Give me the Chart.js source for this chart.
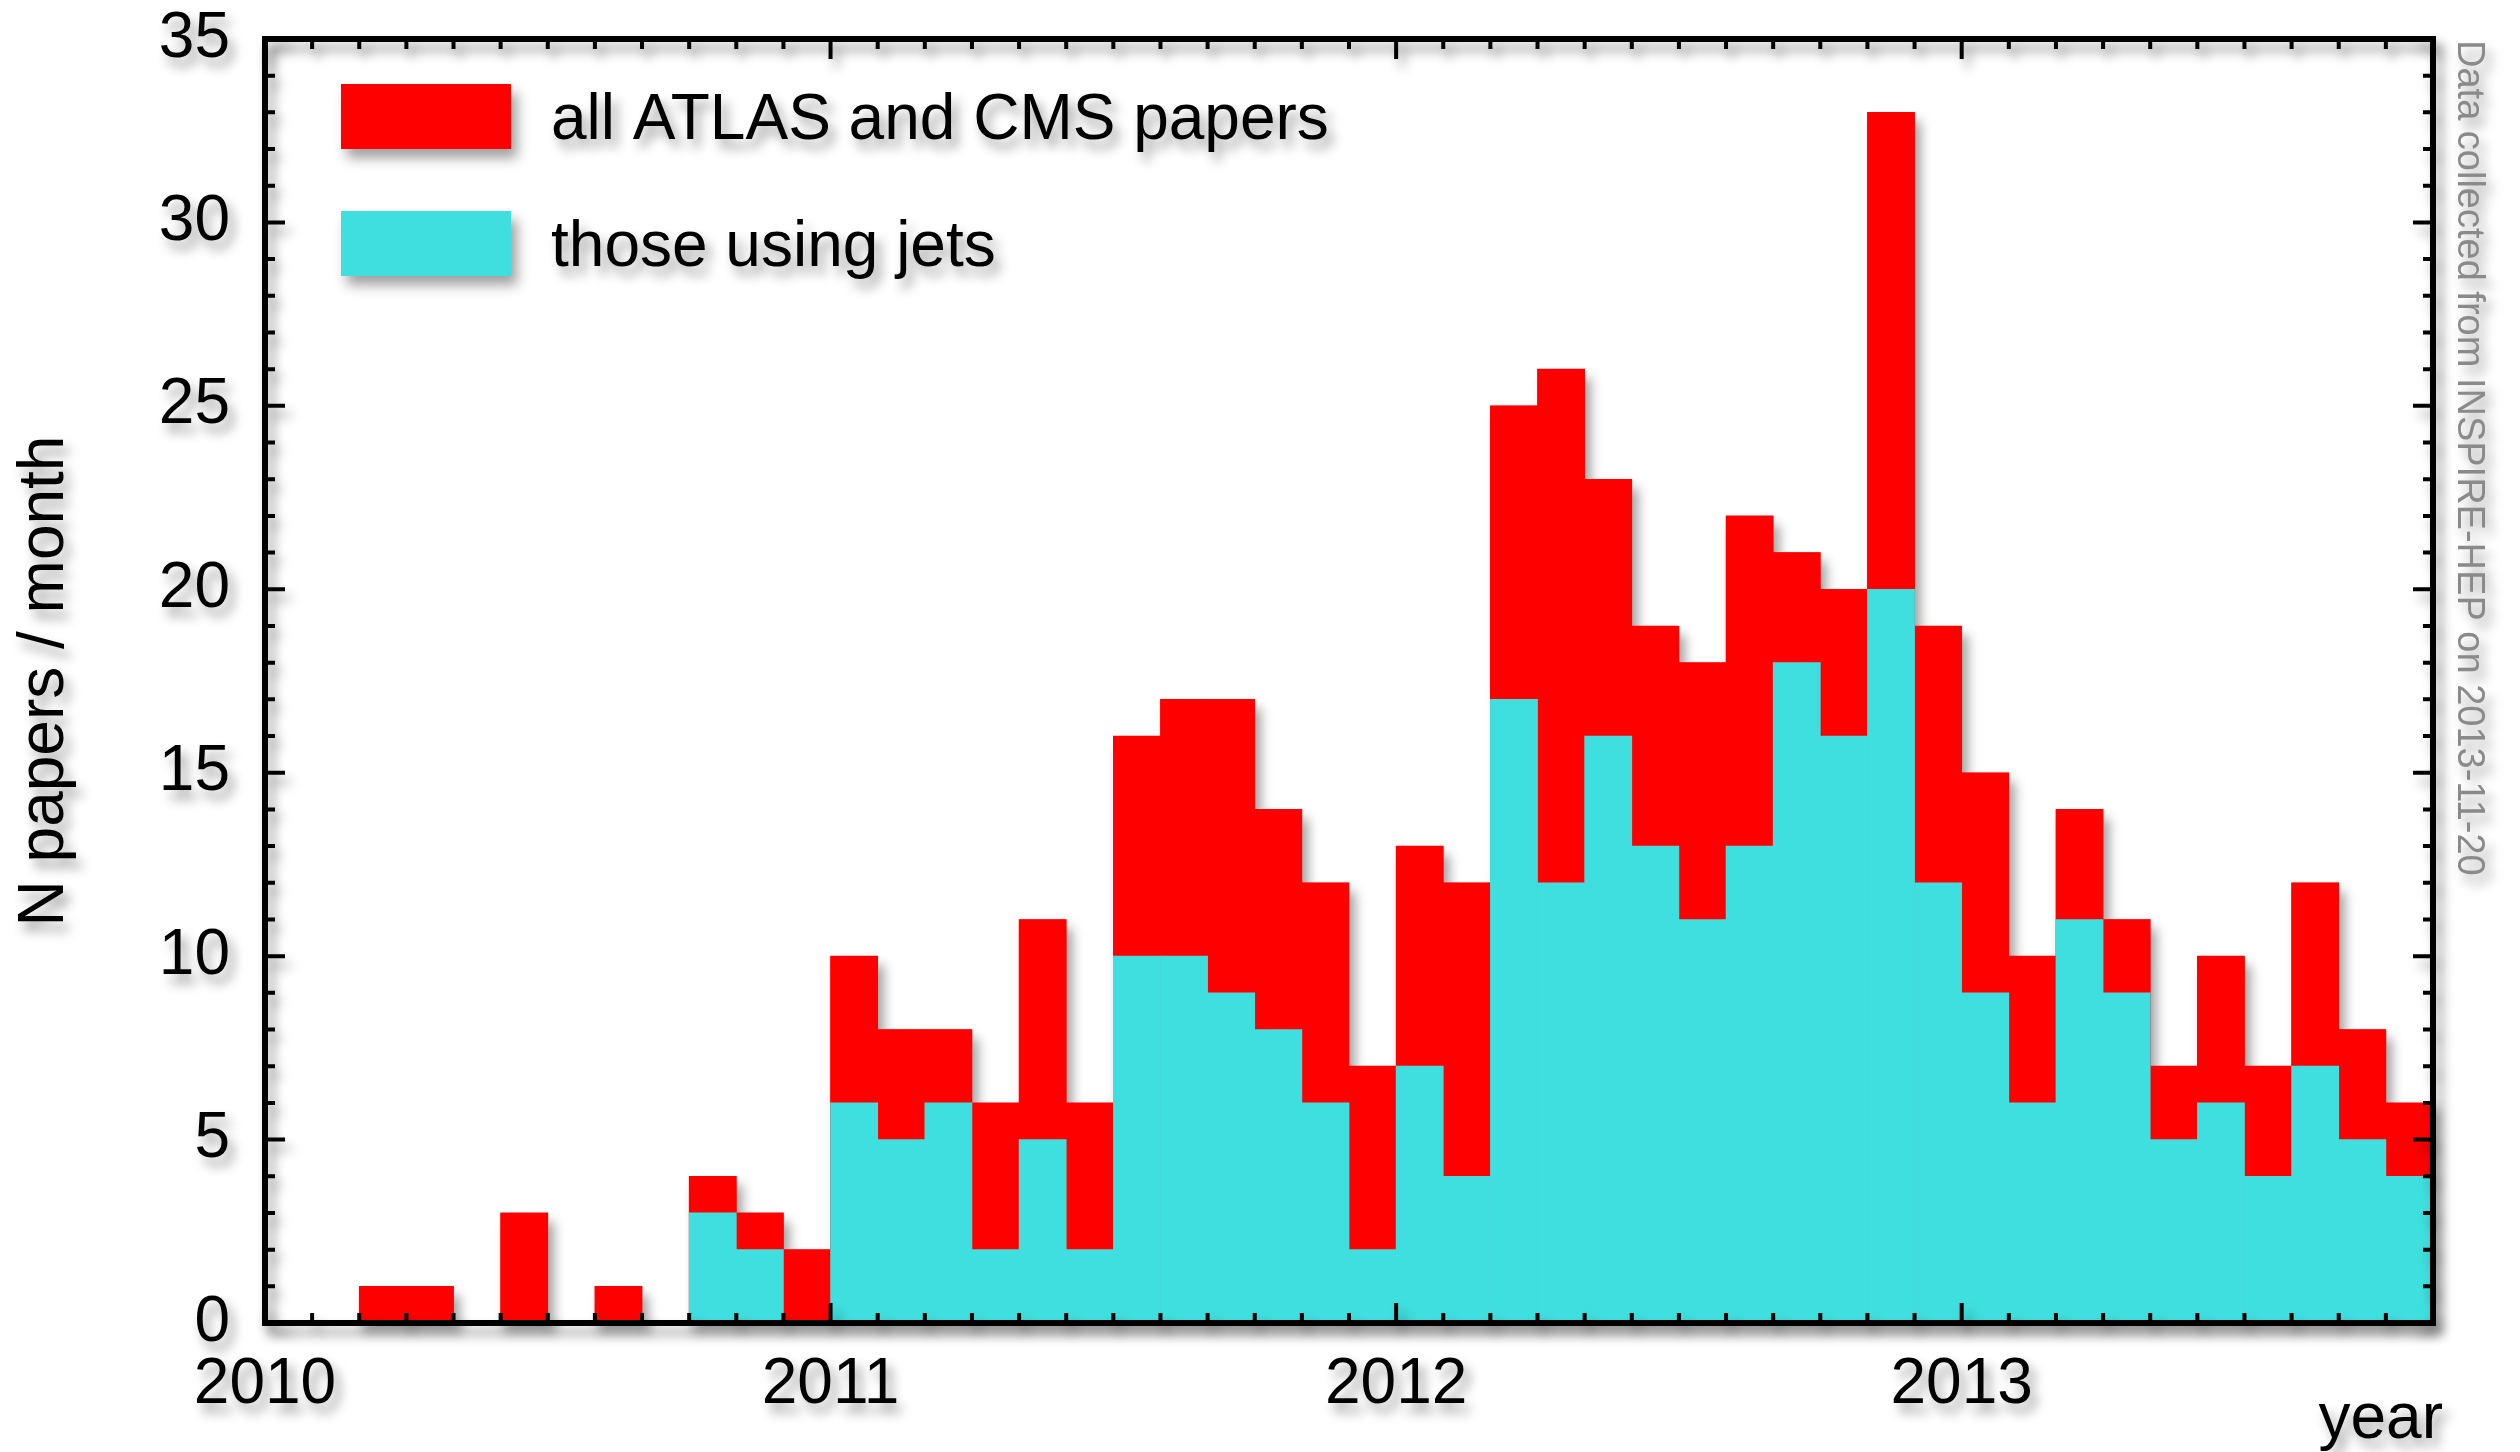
<!DOCTYPE html>
<html>
<head>
<meta charset="utf-8">
<title>ATLAS and CMS papers per month</title>
<script src="https://cdn.jsdelivr.net/npm/chart.js@4.4.0/dist/chart.umd.min.js"></script>
<style>
  html, body { margin: 0; padding: 0; background: #fff; }
  #wrap { width: 2520px; height: 1452px; }
</style>
</head>
<body>
<div id="wrap"><canvas id="papersChart" width="2520" height="1452"></canvas></div>
<script>
// monthly paper counts, Jan 2010 .. Oct 2013
const yearLabels = ['2010', '2011', '2012', '2013'];
const allPapers = [0, 0, 1, 1, 0, 3, 0, 1, 0, 4, 3, 2,
                   10, 8, 8, 6, 11, 6, 16, 17, 17, 14, 12, 7,
                   13, 12, 25, 26, 23, 19, 18, 22, 21, 20, 33, 19,
                   15, 10, 14, 11, 7, 10, 7, 12, 8, 6];
const jetPapers = [0, 0, 0, 0, 0, 0, 0, 0, 0, 3, 2, 0,
                   6, 5, 6, 2, 5, 2, 10, 10, 9, 8, 6, 2,
                   7, 4, 17, 12, 16, 13, 11, 13, 18, 16, 20, 12,
                   9, 6, 11, 9, 5, 6, 4, 7, 5, 4];
const yMax = 35;
const sourceNote = 'Data collected from INSPIRE-HEP on 2013-11-20';

const red = '#fe0000';
const cyan = '#40dfdf';
const font = '"Liberation Sans", Arial, Helvetica, sans-serif';

Chart.defaults.font.family = font;
Chart.defaults.color = '#000';

function setShadow(ctx) {
    ctx.shadowColor = 'rgba(0,0,0,0.38)';
    ctx.shadowBlur = 12;
    ctx.shadowOffsetX = 6;
    ctx.shadowOffsetY = 9;
}
function noShadow(ctx) {
    ctx.shadowColor = 'rgba(0,0,0,0)';
}

// bar sits in the middle of its month bin
const toPoints = arr => arr.map((v, i) => ({ x: i + 0.5, y: v }));

const framePlugin = {
    id: 'frame',
    beforeDraw(chart) {
        const ctx = chart.ctx;
        ctx.save();
        noShadow(ctx);
        ctx.fillStyle = '#fff';
        ctx.fillRect(0, 0, chart.width, chart.height);
        ctx.restore();
        setShadow(ctx);
    },
    beforeDatasetsDraw(chart) {
        // one shadow for the whole red histogram, so no seams between bins
        const ctx = chart.ctx;
        const meta = chart.getDatasetMeta(0);
        ctx.save();
        setShadow(ctx);
        ctx.fillStyle = chart.data.datasets[0].backgroundColor;
        ctx.beginPath();
        meta.data.forEach(el => {
            const { x, y, base, width } = el.getProps(['x', 'y', 'base', 'width'], true);
            if (base - y > 0) ctx.rect(x - width / 2, y, width, base - y);
        });
        ctx.fill();
        ctx.restore();
        noShadow(ctx);
    },
    afterDatasetsDraw(chart) {
        const { ctx, chartArea: a, scales: { x, y } } = chart;
        setShadow(ctx);
        ctx.save();
        ctx.strokeStyle = '#000';
        ctx.lineWidth = 4;
        ctx.beginPath();
        for (let m = 0; m <= allPapers.length; m++) {
            const px = x.getPixelForValue(m);
            const len = m % 12 === 0 ? 20 : 10;
            ctx.moveTo(px, a.bottom); ctx.lineTo(px, a.bottom - len);
            ctx.moveTo(px, a.top); ctx.lineTo(px, a.top + len);
        }
        for (let v = 0; v <= yMax; v++) {
            const py = y.getPixelForValue(v);
            const len = v % 5 === 0 ? 20 : 10;
            ctx.moveTo(a.left, py); ctx.lineTo(a.left + len, py);
            ctx.moveTo(a.right, py); ctx.lineTo(a.right - len, py);
        }
        ctx.stroke();
        ctx.lineWidth = 6;
        ctx.strokeRect(a.left, a.top, a.right - a.left, a.bottom - a.top);
        ctx.restore();
    },
    afterDraw(chart) {
        const { ctx, chartArea: a } = chart;
        ctx.save();
        // legend
        ctx.font = '64px ' + font;
        ctx.textAlign = 'left';
        ctx.textBaseline = 'alphabetic';
        chart.data.datasets.forEach((ds, i) => {
            const bx = a.left + 76, by = a.top + 45 + i * 127;
            ctx.fillStyle = ds.backgroundColor;
            ctx.fillRect(bx, by, 170, 65);
            ctx.fillStyle = '#000';
            ctx.fillText(ds.label, bx + 210, by + 55);
        });
        // axis name on the right bottom
        ctx.textAlign = 'right';
        ctx.fillText('year', a.right + 10, 1438);
        // source note, reading downwards
        ctx.translate(a.right + 35, a.top + 1);
        ctx.rotate(Math.PI / 2);
        ctx.font = '38px ' + font;
        ctx.fillStyle = '#8a8a8a';
        ctx.textAlign = 'left';
        ctx.textBaseline = 'middle';
        ctx.fillText(sourceNote, 0, 0);
        ctx.restore();
        noShadow(ctx);
    }
};

new Chart(document.getElementById('papersChart'), {
    type: 'bar',
    data: {
        datasets: [{
            label: 'all ATLAS and CMS papers',
            data: toPoints(allPapers),
            backgroundColor: red,
            order: 2
        }, {
            label: 'those using jets',
            data: toPoints(jetPapers),
            backgroundColor: cyan,
            order: 1
        }]
    },
    options: {
        responsive: false,
        animation: false,
        events: [],
        grouped: false,
        barPercentage: 1,
        categoryPercentage: 1,
        borderWidth: 0,
        layout: { padding: { left: 0, top: 39, right: 87, bottom: 0 } },
        plugins: {
            legend: { display: false },
            tooltip: { enabled: false }
        },
        scales: {
            x: {
                type: 'linear',
                offset: false,
                min: 0,
                max: allPapers.length,
                grid: { display: false, drawTicks: false },
                border: { display: false },
                ticks: {
                    stepSize: 12,
                    autoSkip: false,
                    maxRotation: 0,
                    padding: 24,
                    font: { size: 64 },
                    callback: v => yearLabels[v / 12] ?? ''
                },
                afterFit: s => { s.height = 129; s.paddingLeft = 0; s.paddingRight = 0; }
            },
            y: {
                min: 0,
                max: yMax,
                grid: { display: false, drawTicks: false },
                border: { display: false },
                ticks: { stepSize: 5, padding: 35, font: { size: 64 } },
                title: {
                    display: true,
                    text: 'N papers / month',
                    font: { size: 64 },
                    padding: { top: 7, bottom: 0 }
                },
                afterFit: s => { s.width = 265; s.paddingTop = 0; s.paddingBottom = 0; }
            }
        }
    },
    plugins: [framePlugin]
});
</script>
</body>
</html>
